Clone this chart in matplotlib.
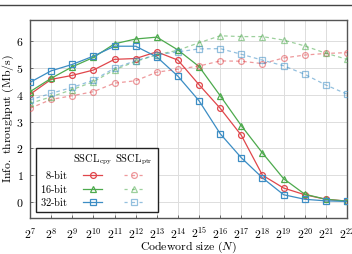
import matplotlib
matplotlib.use("Agg")
import matplotlib.pyplot as plt
from matplotlib.lines import Line2D
from matplotlib.patches import Rectangle

plt.rcParams['mathtext.fontset'] = 'cm'
plt.rcParams['font.family'] = ['DejaVu Serif']

# log2 of codeword size
n_log2 = [7, 8, 9, 10, 11, 12, 13, 14, 15, 16, 17, 18, 19, 20, 21, 22]

# SSCL_cpy (solid)
cpy_8 = [4.02, 4.58, 4.73, 4.93, 5.33, 5.36, 5.61, 5.30, 4.38, 3.50, 2.49, 1.00, 0.52, 0.27, 0.10, 0.03]
cpy_16 = [4.12, 4.62, 5.05, 5.40, 5.91, 6.09, 6.16, 5.68, 5.06, 3.97, 2.85, 1.83, 0.87, 0.29, 0.10, 0.03]
cpy_32 = [4.47, 4.90, 5.14, 5.45, 5.82, 5.82, 5.42, 4.70, 3.78, 2.55, 1.65, 0.90, 0.27, 0.10, 0.04, 0.02]

# SSCL_ptr (dashed)
ptr_8 = [3.50, 3.83, 3.97, 4.12, 4.44, 4.53, 4.85, 4.96, 5.08, 5.27, 5.26, 5.17, 5.38, 5.49, 5.55, 5.58]
ptr_16 = [3.68, 3.93, 4.20, 4.49, 4.94, 5.25, 5.50, 5.67, 5.95, 6.21, 6.18, 6.18, 6.05, 5.83, 5.56, 5.33]
ptr_32 = [3.81, 4.06, 4.28, 4.55, 5.00, 5.28, 5.50, 5.61, 5.72, 5.73, 5.52, 5.30, 5.09, 4.77, 4.37, 4.03]

labels = ['8-bit', '16-bit', '32-bit']
colors = ['#E0464B', '#4DAA4D', '#3C8DC4']
markers = ['o', '^', 's']

fig = plt.figure(figsize=(3.52, 2.54), dpi=100)
ax = fig.add_axes([30 / 352, 36 / 254, 317 / 352, 198 / 254])

# thin rule at the very top of the figure
fig.add_artist(Line2D([0, 1], [1 - 4.5 / 254, 1 - 4.5 / 254], color='#444444', lw=1.0))

for ys, c, m in zip([cpy_8, cpy_16, cpy_32], colors, markers):
    ax.plot(n_log2, ys, color=c, marker=m, ms=4.2, mfc='none', mew=0.9, lw=0.9, zorder=3)
for ys, c, m in zip([ptr_8, ptr_16, ptr_32], colors, markers):
    ax.plot(n_log2, ys, color=c, marker=m, ms=4.2, mfc='none', mew=0.9, lw=0.9,
            ls=(0, (3, 2.5)), alpha=0.55, zorder=3)

ax.set_xlim(7, 22)
ax.set_ylim(-0.6, 6.8)
ax.set_xticks(n_log2)
ax.set_xticklabels([r'$2^{%d}$' % n for n in n_log2], fontsize=8.5)
ax.set_yticks([0, 1, 2, 3, 4, 5, 6])
ax.set_yticklabels([r'$%d$' % v for v in range(7)], fontsize=8.5)
ax.tick_params(direction='in', length=2.5, width=0.6, color='#555555')
ax.tick_params(axis='x', pad=6)
ax.tick_params(axis='y', pad=4.5)
ax.grid(True, color='#dddddd', lw=0.7, zorder=0)
ax.set_axisbelow(True)
for s in ax.spines.values():
    s.set_color('#555555')
    s.set_linewidth(1.0)

ax.set_xlabel(r'$\mathrm{Codeword\ size\ (}N\mathrm{)}$', fontsize=8.5, labelpad=-1)
ax.set_ylabel(r'$\mathrm{Info.\ throughput\ (Mb/s)}$', fontsize=8.5, labelpad=0)

# hand-made legend: labels on the left, two handle columns with headers
box = Rectangle((0.019, 0.03), 0.385, 0.324, transform=ax.transAxes,
                facecolor='white', edgecolor='#222222', lw=1.0, zorder=5)
ax.add_patch(box)
col_x = [0.198, 0.328]
ax.text(col_x[0], 0.296, r'$\mathrm{SSCL_{cpy}}$', transform=ax.transAxes,
        ha='center', va='center', fontsize=7.5, zorder=6)
ax.text(col_x[1], 0.296, r'$\mathrm{SSCL_{ptr}}$', transform=ax.transAxes,
        ha='center', va='center', fontsize=7.5, zorder=6)
row_y = [0.216, 0.148, 0.081]
for lab, c, m, yy in zip(labels, colors, markers, row_y):
    ax.text(0.119, yy, r'$\mathrm{%s}$' % lab.replace('-', '\\text{-}'), transform=ax.transAxes,
            ha='right', va='center', fontsize=7.5, zorder=6)
    ax.add_line(Line2D([col_x[0] - 0.03, col_x[0] + 0.03], [yy, yy], transform=ax.transAxes,
                       color=c, lw=0.9, zorder=6))
    ax.add_line(Line2D([col_x[0]], [yy], transform=ax.transAxes, color=c, marker=m,
                       ms=4.2, mfc='none', mew=0.9, zorder=7))
    ax.add_line(Line2D([col_x[1] - 0.03, col_x[1] + 0.03], [yy, yy], transform=ax.transAxes,
                       color=c, lw=0.9, ls=(0, (2.5, 3.5)), alpha=0.55, zorder=6))
    ax.add_line(Line2D([col_x[1]], [yy], transform=ax.transAxes, color=c, marker=m,
                       ms=4.2, mfc='none', mew=0.9, alpha=0.55, zorder=7))

fig.savefig('out.png', dpi=100)
